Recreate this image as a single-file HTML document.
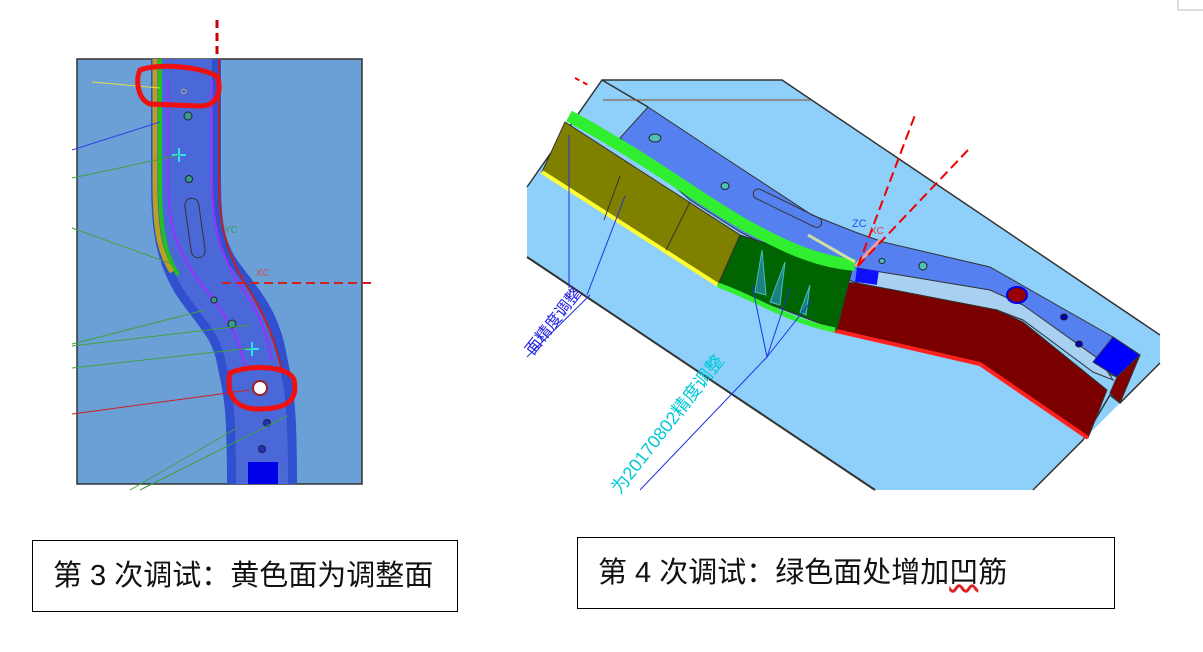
<!DOCTYPE html>
<html><head><meta charset="utf-8"><style>
html,body{margin:0;padding:0;background:#fff;}
body{width:1203px;height:652px;position:relative;overflow:hidden;font-family:"Liberation Sans","Noto Sans CJK SC",sans-serif;}
.box{position:absolute;border:1px solid #000;background:#fff;box-sizing:border-box;font-size:29px;color:#111;white-space:nowrap;}
</style></head><body>
<svg width="1203" height="652" style="position:absolute;left:0;top:0">
<line x1="1178" y1="0" x2="1178" y2="10" stroke="#bbb"/><line x1="1178" y1="10" x2="1203" y2="10" stroke="#bbb"/>
<!-- LEFT IMAGE -->
<rect x="77" y="59" width="285" height="425" fill="#6ba0d6" stroke="#333" stroke-width="1.5"/>
<path d="M217,20 L217,59" stroke="#c00" stroke-width="3" stroke-dasharray="8,5"/>
<g fill="none" stroke-linecap="butt">
<path d="M186,59 L186,180 C186,225 190,250 205,275 C225,305 245,320 252,360 C258,390 262,400 262,484" stroke="#3050d0" stroke-width="70"/>
<path d="M186,59 L186,180 C186,225 190,250 205,275 C225,305 245,320 252,360 C258,390 262,400 262,484" stroke="#4a68d8" stroke-width="52"/>
<path d="M160,59 L160,180 C160,225 163,250 178,275" stroke="#22c020" stroke-width="4"/>
<path d="M155,59 L155,180 C155,225 158,250 172,272" stroke="#b8a020" stroke-width="5"/>
<path d="M219,59 L219,180 C219,225 226,250 243,280 C262,310 272,330 282,370" stroke="#c02020" stroke-width="2"/>
<path d="M168,80 L168,180 C168,230 178,250 198,280 C222,310 238,330 246,370" stroke="#9a30ff" stroke-width="2"/>
<path d="M212,80 L212,180 C212,225 220,250 235,278 C254,305 264,320 272,360" stroke="#9a30ff" stroke-width="2"/>
</g>
<rect x="248" y="462" width="30" height="22" fill="#0000e8"/>
<ellipse cx="188" cy="116" rx="4" ry="4" fill="#3a9a8a" stroke="#223"/>
<ellipse cx="189" cy="179" rx="3.5" ry="3.5" fill="#3a9a8a" stroke="#223"/>
<ellipse cx="214" cy="300" rx="3" ry="3" fill="#3a9a8a" stroke="#223"/>
<ellipse cx="232" cy="324" rx="4" ry="4" fill="#3a9a8a" stroke="#223"/>
<ellipse cx="262" cy="449" rx="3.5" ry="3.5" fill="#2030c0" stroke="#223"/>
<ellipse cx="267" cy="423" rx="3.5" ry="3.5" fill="#2030c0" stroke="#223"/>
<rect x="188" y="198" width="14" height="60" rx="7" fill="none" stroke="#333" transform="rotate(-8 195 228)"/>
<circle cx="260" cy="388" r="7" fill="#fff" stroke="#a02020" stroke-width="2"/>
<text x="180" y="95" fill="#e8e020" font-size="12">○</text>
<path d="M179,148 v14 M172,155 h14" stroke="#30e0f0" stroke-width="2"/>
<path d="M252,342 v14 M245,349 h14" stroke="#30e0f0" stroke-width="2"/>
<path d="M222,283 L375,283" stroke="#d02020" stroke-width="2" stroke-dasharray="9,5"/>
<text x="256" y="276" fill="#d05050" font-size="10">XC</text>
<text x="224" y="233" fill="#3a9a60" font-size="10">YC</text>
<g stroke-width="1">
<line x1="92" y1="82" x2="160" y2="88" stroke="#e0e040"/>
<line x1="72" y1="150" x2="160" y2="122" stroke="#3040e0"/>
<line x1="72" y1="178" x2="180" y2="155" stroke="#40a040"/>
<line x1="72" y1="228" x2="175" y2="265" stroke="#40a040"/>
<line x1="72" y1="344" x2="205" y2="310" stroke="#40a040"/>
<line x1="72" y1="346" x2="250" y2="325" stroke="#40a040"/>
<line x1="72" y1="368" x2="252" y2="348" stroke="#40a040"/>
<line x1="72" y1="414" x2="250" y2="390" stroke="#d02020"/>
<line x1="130" y1="490" x2="237" y2="428" stroke="#40a040"/>
<line x1="140" y1="490" x2="287" y2="416" stroke="#40a040"/>
</g>
<path d="M140,70 C160,62 210,68 218,78 C222,95 215,106 200,106 L150,104 C138,100 135,80 140,70 Z" fill="none" stroke="#f01010" stroke-width="5"/>
<path d="M230,373 C250,364 290,366 294,380 C298,400 288,408 262,409 C240,410 225,400 230,373 Z" fill="none" stroke="#f01010" stroke-width="5"/>
<!-- RIGHT IMAGE -->
<polygon points="527,187 602,80 782,80 1160,335 1160,363 1033,490 875,490 527,257" fill="#8fd0fb"/>
<polyline points="527,187 602,80 782,80 1160,335" fill="none" stroke="#333" stroke-width="1.5"/>
<polyline points="1160,363 1120,403 1110,395 1083,440 1033,490" fill="none" stroke="#333" stroke-width="1.5"/>
<line x1="527" y1="257" x2="875" y2="490" stroke="#333" stroke-width="2"/>
<line x1="602" y1="80" x2="648" y2="107" stroke="#333" stroke-width="1.5"/>
<line x1="603" y1="100" x2="810" y2="100" stroke="#8a4a20"/>
<!-- top surface -->
<polygon points="620,138 648,107 725,158 812,215 855,232 883,242 990,267 1113,337 1140,355 1117,377 1093,368 1023,320 997,310 857,283 800,262 740,232 690,200" fill="#5580f0" stroke="#333"/>
<polygon points="857,268 990,290 1023,305 1100,360 1113,380 1093,372 1023,320 997,310 857,283" fill="#a8d0f0" stroke="#333"/>
<rect x="857" y="268" width="22" height="14" fill="#1010ff" transform="rotate(8 857 268)"/>
<polygon points="1093,362 1113,337 1140,355 1117,377" fill="#0000ff" stroke="#333"/>
<!-- red wall -->
<polygon points="837,282 857,283 997,310 1023,322 1107,390 1088,438 980,363 830,328" fill="#7a0000" stroke="#333"/>
<polyline points="832,330 980,364 1088,438" fill="none" stroke="#ff2020" stroke-width="4"/>
<polygon points="1117,377 1140,355 1120,403 1110,393" fill="#800000" stroke="#333"/>
<!-- olive wall -->
<polygon points="542,172 565,122 740,235 718,285" fill="#808000" stroke="#333"/>
<line x1="542" y1="172" x2="718" y2="285" stroke="#ffff30" stroke-width="4"/>
<line x1="620" y1="176" x2="604" y2="220" stroke="#333"/>
<line x1="690" y1="202" x2="666" y2="250" stroke="#333"/>
<!-- dark green wall -->
<polygon points="740,235 852,270 837,330 718,285" fill="#006400" stroke="#333"/>
<path d="M718,285 C760,300 785,320 835,330" fill="none" stroke="#30ee30" stroke-width="5"/>
<path d="M569,116 C650,160 700,200 745,225 C790,250 820,262 855,265" fill="none" stroke="#30ee30" stroke-width="12"/>
<g fill="#208080" stroke="#40c0c0"><polygon points="755,292 762,250 766,295"/><polygon points="770,302 785,262 780,305"/><polygon points="800,312 810,285 806,315"/></g>
<ellipse cx="655" cy="138" rx="6" ry="4" fill="#50c0b0" stroke="#223"/>
<ellipse cx="725" cy="186" rx="4" ry="3.5" fill="#50c0b0" stroke="#223"/>
<ellipse cx="882" cy="261" rx="3" ry="2.5" fill="#50c0b0" stroke="#223"/>
<ellipse cx="923" cy="266" rx="4" ry="4" fill="#50c0b0" stroke="#223"/>
<ellipse cx="1017" cy="295" rx="10" ry="8" fill="#900" stroke="#0000e0" stroke-width="2"/>
<ellipse cx="1064" cy="317" rx="3.5" ry="3" fill="#0000c0" stroke="#222"/>
<ellipse cx="1079" cy="344" rx="3.5" ry="3" fill="#0000c0" stroke="#222"/>
<rect x="750" y="203" width="75" height="10" rx="5" fill="none" stroke="#333" transform="rotate(26 787 208)"/>
<line x1="808" y1="235" x2="855" y2="262" stroke="#d0e0a0" stroke-width="3"/>
<path d="M855,266 L880,240" stroke="#f0a0a0" stroke-width="3"/>
<path d="M858,266 L915,115 M858,266 L968,150" stroke="#e00" stroke-width="2" stroke-dasharray="10,5"/>
<path d="M575,78 L590,86" stroke="#e00" stroke-width="2" stroke-dasharray="5,4"/>
<text x="852" y="227" fill="#2050f0" font-size="11">ZC</text>
<text x="870" y="234" fill="#e04040" font-size="10">XC</text>
<g stroke="#2030e0" fill="none"><line x1="569" y1="135" x2="569" y2="288"/><line x1="587" y1="295" x2="625" y2="196"/><polyline points="752,285 767,357 790,288"/><line x1="767" y1="357" x2="812" y2="300"/><line x1="767" y1="357" x2="640" y2="490"/><line x1="527" y1="357" x2="590" y2="295"/></g>
<text transform="translate(533,356) rotate(-52)" fill="#2020e0" font-size="16">面精度调整</text>
<text transform="translate(620,495) rotate(-52)" fill="#00c8d8" font-size="18">为20170802精度调整</text>
</svg>
<div class="box" style="left:32px;top:540px;width:426px;height:72px;line-height:70px;padding-left:20px;">第 3 次调试：黄色面为调整面</div>
<div class="box" style="left:577px;top:537px;width:538px;height:72px;line-height:70px;padding-left:20px;">第 4 次调试：绿色面处增加<span style="text-decoration:underline wavy #e02020;">凹</span>筋</div>
</body></html>
